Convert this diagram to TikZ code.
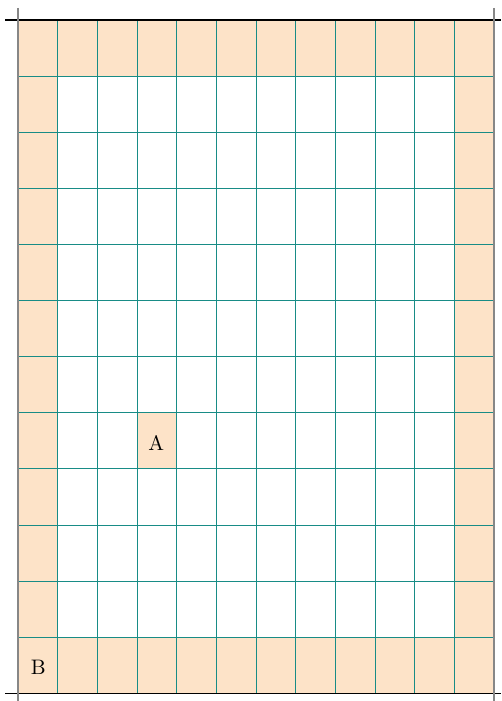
\documentclass[tikz,border=0pt]{standalone}
\usepackage{fontspec}
\newfontfamily\lmten{lmroman10-regular.otf}
\definecolor{peach}{RGB}{253,227,200}
\definecolor{gridteal}{RGB}{24,140,134}
\definecolor{axisgray}{RGB}{135,135,135}
\tikzset{
  cellfill/.style={fill=peach, draw=none},
  gridline/.style={draw=gridteal, line width=0.9pt},
  hline/.style={draw=black, line width=1.2pt},
  vline/.style={draw=axisgray, line width=1.8pt},
  label/.style={font=\lmten\fontsize{21}{25}\selectfont, inner sep=0pt, anchor=base}
}
\begin{document}
\begin{tikzpicture}[x=1pt,y=-1pt]
\useasboundingbox (0,0) rectangle (501,701);
\def\cw{39.667}
\def\rh{56.108}
% shaded border cells
\fill[cellfill] (18,20) rectangle (494,{20+\rh});
\fill[cellfill] (18,{20+11*\rh}) rectangle (494,{20+12*\rh});
\fill[cellfill] (18,20) rectangle ({18+\cw},{20+12*\rh});
\fill[cellfill] ({18+11*\cw},20) rectangle (494,{20+12*\rh});
% cell A
\fill[cellfill] ({18+3*\cw},{20+7*\rh}) rectangle ({18+4*\cw},{20+8*\rh});
% grid
\foreach \i in {0,...,12} {
  \draw[gridline] ({18+\i*\cw},20) -- ({18+\i*\cw},{20+12*\rh});
  \draw[gridline] (18,{20+\i*\rh}) -- (494,{20+\i*\rh});
}
% axis lines
\draw[hline] (5,20) -- (501,20);
\draw[hline] (5,{20+12*\rh}) -- (501,{20+12*\rh});
\draw[vline] (18,8) -- (18,701);
\draw[vline] (494,8) -- (494,701);
% labels
\node[label] (A) at ({18+3.5*\cw-0.6},{20+7.5*\rh+9.6}) {A};
\node[label] (B) at ({18+0.5*\cw+0.5},{20+11.5*\rh+8.8}) {B};
\end{tikzpicture}
\end{document}
